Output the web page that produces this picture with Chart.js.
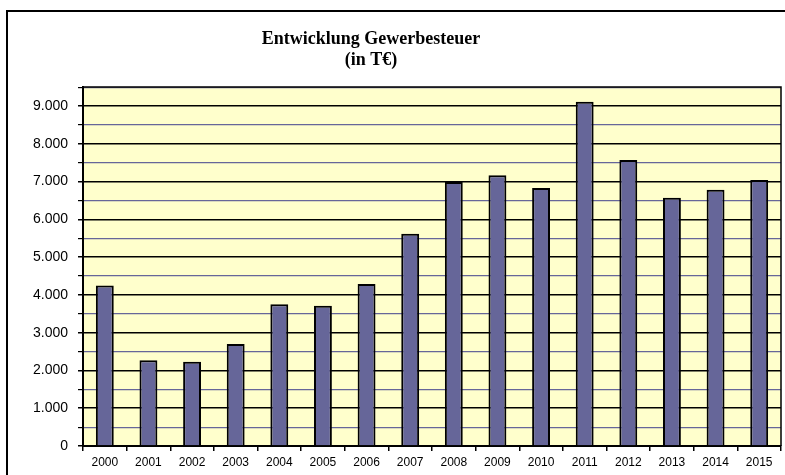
<!DOCTYPE html>
<html>
<head>
<meta charset="utf-8">
<script src="https://cdn.jsdelivr.net/npm/chart.js@4.4.1/dist/chart.umd.min.js"></script>
<style>
  html, body { margin: 0; padding: 0; background: #fff; overflow: hidden; }
  #wrap { position: relative; width: 785px; height: 475px; }
  #frame { position: absolute; left: 6px; top: 10px; width: 820px; height: 520px; border: 2px solid #000; box-sizing: border-box; }
  canvas { position: absolute; left: 0; top: 0; }
</style>
</head>
<body>
<div id="wrap">
  <div id="frame"></div>
  <canvas id="c" width="785" height="475"></canvas>
</div>
<script>
const titleLines = ['Entwicklung Gewerbesteuer', '(in T€)'];
const categories = ['2000','2001','2002','2003','2004','2005','2006','2007','2008','2009','2010','2011','2012','2013','2014','2015'];
const values = [4250, 2270, 2230, 2700, 3750, 3710, 4290, 5620, 6990, 7165, 6830, 9115, 7570, 6570, 6785, 7040];
const yMin = 0;
const yMax = 9500;
const yStep = 500;
const yLabelStep = 1000;

function fmtDE(v) {
  return String(v).replace(/\B(?=(\d{3})+(?!\d))/g, '.');
}

const plotBg = {
  id: 'plotBg',
  beforeDraw(chart) {
    const a = chart.chartArea, ctx = chart.ctx;
    ctx.save();
    ctx.fillStyle = '#FFFFCC';
    ctx.fillRect(a.left, a.top, a.right - a.left, a.bottom - a.top);
    ctx.restore();
  },
  afterDatasetsDraw(chart) {
    const a = chart.chartArea, ctx = chart.ctx;
    ctx.save();
    ctx.strokeStyle = '#000';
    ctx.lineWidth = 1.5;
    ctx.beginPath();
    ctx.moveTo(a.left, a.top);
    ctx.lineTo(a.right, a.top);
    ctx.lineTo(a.right, a.bottom);
    ctx.stroke();
    ctx.restore();
  }
};

const titleShift = {
  id: 'titleShift',
  afterLayout(chart) {
    const t = chart.titleBlock;
    if (t) { const w = t.right - t.left; t.left = 371 - w / 2; t.right = 371 + w / 2; }
  }
};

new Chart(document.getElementById('c'), {
  type: 'bar',
  data: {
    labels: categories,
    datasets: [{
      data: values,
      backgroundColor: '#666699',
      borderColor: '#000',
      borderWidth: 2,
      borderSkipped: 'bottom',
      barPercentage: 0.41,
      categoryPercentage: 1.0
    }]
  },
  plugins: [plotBg, titleShift],
  options: {
    responsive: false,
    animation: false,
    layout: { padding: { left: 0, right: 4, top: 0, bottom: 0 } },
    plugins: {
      legend: { display: false },
      tooltip: { enabled: false },
      title: {
        display: true,
        text: titleLines,
        color: '#000',
        font: { family: '"Liberation Serif", "Times New Roman", serif', size: 18, weight: 'bold', lineHeight: 1.17 },
        padding: { top: 29, bottom: 16 }
      }
    },
    scales: {
      x: {
        type: 'category',
        offset: true,
        grid: { display: true, drawOnChartArea: false, offset: true, tickLength: 5, tickColor: '#000', lineWidth: 1.5 },
        border: { display: true, color: '#000', width: 2 },
        ticks: { color: '#000', font: { family: '"Liberation Sans", Arial, sans-serif', size: 12 }, padding: 4, maxRotation: 0, autoSkip: false },
        afterFit(s) { s.height = 29; }
      },
      y: {
        min: yMin,
        max: yMax,
        ticks: {
          stepSize: yStep,
          autoSkip: false,
          color: '#000',
          font: { family: '"Liberation Sans", Arial, sans-serif', size: 14 },
          padding: 10,
          callback: (v) => (v % yLabelStep === 0 ? fmtDE(v) : '')
        },
        grid: {
          color: (c) => (c.tick && c.tick.value % yLabelStep === 0 ? '#000' : '#666699'),
          lineWidth: (c) => (c.tick && c.tick.value % yLabelStep === 0 ? 1.5 : 1.2),
          tickColor: '#000',
          tickLength: 5
        },
        border: { display: true, color: '#000', width: 2 },
        afterFit(s) { s.width = 83; }
      }
    }
  }
});
</script>
</body>
</html>
